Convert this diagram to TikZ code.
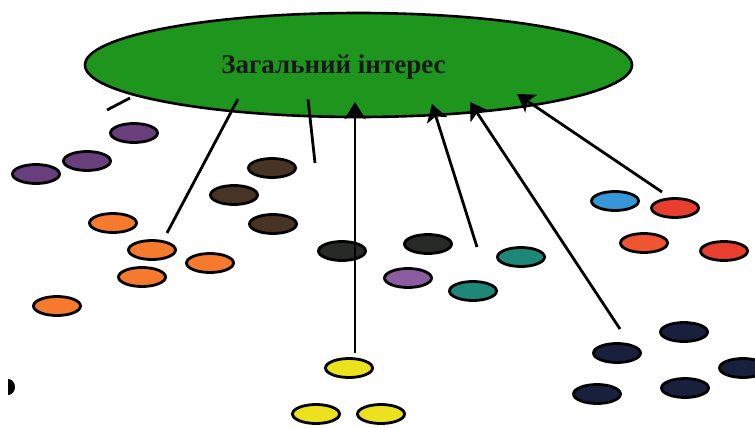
\documentclass[tikz,border=0pt]{standalone}
\usepackage{fontspec}
\setmainfont{Liberation Serif}
\usetikzlibrary{shapes.geometric,arrows.meta}
\definecolor{goalgreen}{RGB}{30,150,30}
\definecolor{dpurple}{RGB}{105,62,125}
\definecolor{lpurple}{RGB}{140,92,160}
\definecolor{dbrown}{RGB}{72,52,36}
\definecolor{dorange}{RGB}{245,122,45}
\definecolor{dcharcoal}{RGB}{40,42,40}
\definecolor{dteal}{RGB}{30,135,120}
\definecolor{dblue}{RGB}{55,150,215}
\definecolor{dred}{RGB}{232,62,45}
\definecolor{dredb}{RGB}{240,85,50}
\definecolor{dnavy}{RGB}{25,32,62}
\definecolor{dyellow}{RGB}{235,225,30}
\tikzset{
  dot/.style={ellipse, draw=black, line width=2.8pt, minimum width=47pt, minimum height=19pt, inner sep=0pt, fill=#1},
  link/.style={line width=2.8pt, draw=black},
  arr/.style={link, -{Stealth[length=17pt,width=21pt,inset=4pt]}},
}
\begin{document}
\begin{tikzpicture}[x=1pt,y=-1pt]
\useasboundingbox (0,0) rectangle (755,428);
\clip (0,0) rectangle (755,428);
\fill[white] (0,0) rectangle (755,428);
% goal
\node[ellipse, draw=black, line width=2.6pt, fill=goalgreen, minimum width=547pt, minimum height=104pt, inner sep=0pt] (goal) at (358.5,65) {};
\node[anchor=base, font=\fontsize{27}{30}\selectfont\bfseries, text=black!90] (label) at (333.5,74) {Загальний інтерес};
% dots
\node[dot=dpurple] (p1) at (134,133) {};
\node[dot=dpurple] (p2) at (87,161) {};
\node[dot=dpurple] (p3) at (36,174) {};
\node[dot=dbrown] (b1) at (272,168) {};
\node[dot=dbrown] (b2) at (234,195) {};
\node[dot=dbrown] (b3) at (273,224) {};
\node[dot=dorange] (o1) at (113,223) {};
\node[dot=dorange] (o2) at (152,250) {};
\node[dot=dorange] (o3) at (210,263) {};
\node[dot=dorange] (o4) at (142,277) {};
\node[dot=dorange] (o5) at (57,306) {};
\node[dot=dcharcoal] (k1) at (342,251) {};
\node[dot=dcharcoal] (k2) at (428,244) {};
\node[dot=lpurple] (p4) at (408,278) {};
\node[dot=dteal] (t1) at (521,257) {};
\node[dot=dteal] (t2) at (473,291) {};
\node[dot=dblue] (bl) at (615,201) {};
\node[dot=dred] (r1) at (675,208) {};
\node[dot=dredb] (r2) at (644,243) {};
\node[dot=dred] (r3) at (724,251) {};
\node[dot=dnavy] (n1) at (684,332) {};
\node[dot=dnavy] (n2) at (617,353) {};
\node[dot=dnavy] (n3) at (743,368) {};
\node[dot=dnavy] (n4) at (597,394) {};
\node[dot=dnavy] (n5) at (685,388) {};
\node[dot=dyellow] (y1) at (349,368) {};
\node[dot=dyellow] (y2) at (316,414) {};
\node[dot=dyellow] (y3) at (381,414) {};
% stray fragment at left edge
\begin{scope}
\clip (8,370) rectangle (20,400);
\fill[black] (8,387) ellipse (7pt and 8pt);
\end{scope}
% connector ends
\coordinate (sA) at (107,110); \coordinate (sB) at (130,98);
\coordinate (oS) at (167,233); \coordinate (oE) at (238,99);
\coordinate (bS) at (315,163); \coordinate (bE) at (308,99);
\coordinate (yS) at (355,353); \coordinate (yE) at (355,102);
\coordinate (tS) at (477,247); \coordinate (tE) at (432,104);
\coordinate (nS) at (620,329); \coordinate (nE) at (470,102);
\coordinate (rS) at (662,192); \coordinate (rE) at (517,94);
\draw[link] (sA) -- (sB);
\draw[link] (oS) -- (oE);
\draw[link] (bS) -- (bE);
\draw[arr] (yS) -- (yE);
\draw[arr] (tS) -- (tE);
\draw[arr] (nS) -- (nE);
\draw[arr] (rS) -- (rE);
\end{tikzpicture}
\end{document}
